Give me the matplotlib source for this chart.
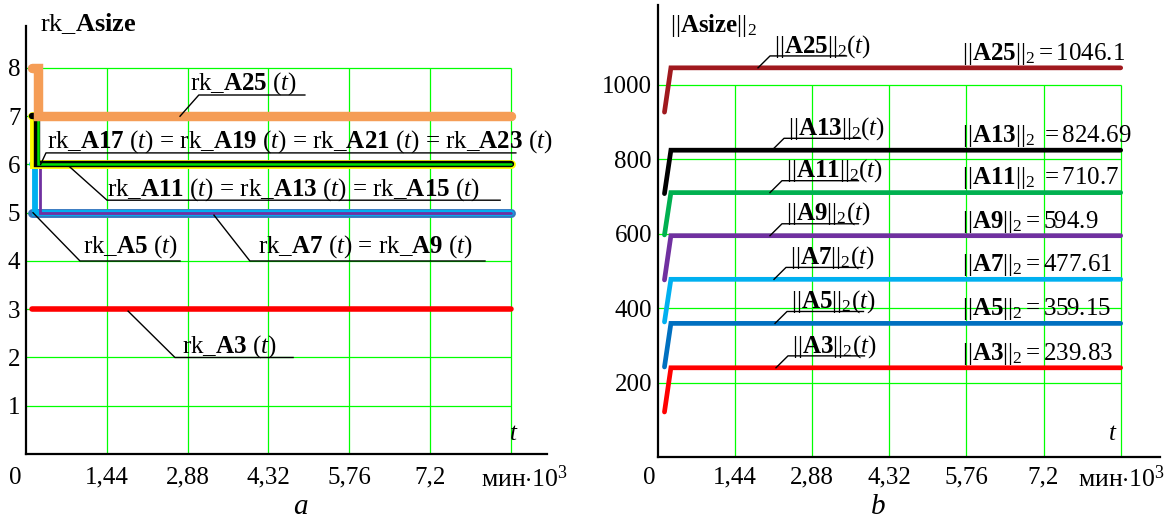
import matplotlib
matplotlib.use("Agg")
import matplotlib.pyplot as plt

plt.rcParams['font.family'] = ['Liberation Serif', 'DejaVu Serif']
plt.rcParams['mathtext.fontset'] = 'custom'
plt.rcParams['mathtext.rm'] = 'Liberation Serif'
plt.rcParams['mathtext.it'] = 'Liberation Serif:italic'
plt.rcParams['mathtext.bf'] = 'Liberation Serif:bold'

# ---------------- data: panel a (rank) ----------------
t_A3 = [0.11, 8.64]; rk_A3 = [3, 3]
t_A5 = [0.11, 8.64]; rk_A5 = [5, 5]
t_A7 = [0.11, 0.16, 0.16, 8.64]; rk_A7 = [6, 6, 5, 5]
t_A9 = [0.20, 0.25, 0.25, 8.64]; rk_A9 = [6, 6, 5, 5]
t_A23 = [0.11, 0.14, 0.14, 8.64]; rk_A23 = [7, 7, 6, 6]
t_A21 = [0.11, 0.20, 0.20, 8.64]; rk_A21 = [7, 7, 6, 6]
t_A19 = [0.16, 0.21, 0.21, 8.64]; rk_A19 = [7, 7, 6, 6]
t_A25 = [0.11, 0.21, 0.21, 8.64]; rk_A25 = [8, 8, 7, 7]

# ---------------- data: panel b (2-norm) ----------------
t_norm = [0.13, 0.25, 8.64]
n_A3 = [121, 239.83, 239.83]
n_A5 = [242, 359.15, 359.15]
n_A7 = [363, 477.61, 477.61]
n_A9 = [476, 594.9, 594.9]
n_A11 = [597, 710.7, 710.7]
n_A13 = [708, 824.69, 824.69]
n_A25 = [927, 1046.1, 1046.1]
norm_names = ['A25', 'A13', 'A11', 'A9', 'A7', 'A5', 'A3']
norm_vals = ['1046.1', '824.69', '710.7', '594.9', '477.61', '359.15', '239.83']
norm_eq = ['=', r'\ {=}', r'\ {=}', '=', '=', '=', '=']

x_ticks = [1.44, 2.88, 4.32, 5.76, 7.2]
x_tick_labels = ['1,44', '2,88', '4,32', '5,76', '7,2']
x_grid = [1.44, 2.88, 4.32, 5.76, 7.2, 8.64]
y_ticks_a = [1, 2, 3, 4, 5, 6, 7, 8]
y_ticks_b = [200, 400, 600, 800, 1000]

W, H = 1167, 522
fig = plt.figure(figsize=(W / 100, H / 100), dpi=100)
GRID = '#00ff00'
FS = 18

def style(ax, xpad):
    for s in ['top', 'right']:
        ax.spines[s].set_visible(False)
    for s in ['left', 'bottom']:
        ax.spines[s].set_linewidth(1.6)
        ax.spines[s].set_color('black')
    ax.tick_params(axis='both', length=0)
    ax.tick_params(axis='x', pad=xpad, labelsize=18)
    ax.tick_params(axis='y', pad=4, labelsize=FS)

# ================= panel a =================
ax1 = fig.add_axes([26 / W, (H - 454) / H, (547 - 26) / W, (454 - 26) / H])
ax1.set_xlim(0, 9.285)
ax1.set_ylim(0, 8.87)
style(ax1, 9)
ax1.vlines(x_grid, 0, 8, color=GRID, lw=0.9, zorder=0)
ax1.hlines(y_ticks_a, 0, 8.64, color=GRID, lw=0.9, zorder=0)
ax1.set_xticks(x_ticks, x_tick_labels)
ax1.set_yticks(y_ticks_a, [str(v) for v in y_ticks_a])

kw = dict(solid_capstyle='round', solid_joinstyle='miter')
ax1.plot(t_A3, rk_A3, color='#ff0000', lw=4.0, **kw)
ax1.plot(t_A5, rk_A5, color='#3677c0', lw=6.4, **kw)
ax1.plot(t_A7, rk_A7, color='#00b0f0', lw=4.2, **kw)
ax1.plot(t_A9, rk_A9, color='#7030a0', lw=2.0, **kw)
ax1.plot(t_A23, rk_A23, color='#ffff00', lw=6.4, **kw)
ax1.plot(t_A21, rk_A21, color='#000000', lw=4.6, **kw)
ax1.plot(t_A19, rk_A19, color='#00e000', lw=1.8, **kw)
ax1.plot(t_A25, rk_A25, color='#f59d56', lw=6.8, **kw)

lab_a = [
    (r"rk_$\mathbf{A25}$ ($t$)", [(2.745, 7.0), (3.08, 7.44), (4.97, 7.44)], (2.92, 7.56)),
    (r"rk_$\mathbf{A17}$ ($t$) = rk_$\mathbf{A19}$ ($t$) = rk_$\mathbf{A21}$ ($t$) = rk_$\mathbf{A23}$ ($t$)",
     [(0.26, 6.0), (0.356, 6.24), (8.73, 6.24)], (0.38, 6.36)),
    (r"rk_$\mathbf{A11}$ ($t$) = rk_$\mathbf{A13}$ ($t$) = rk_$\mathbf{A15}$ ($t$)",
     [(0.78, 5.95), (1.444, 5.26), (8.45, 5.26)], (1.444, 5.35)),
    (r"rk_$\mathbf{A5}$ ($t$)", [(0.125, 5.0), (0.962, 4.0), (2.745, 4.0)], (1.01, 4.17)),
    (r"rk_$\mathbf{A7}$ ($t$) = rk_$\mathbf{A9}$ ($t$)", [(3.35, 4.95), (3.99, 4.0), (8.18, 4.0)], (4.13, 4.17)),
    (r"rk_$\mathbf{A3}$ ($t$)", [(1.82, 2.96), (2.655, 2.0), (4.76, 2.0)], (2.78, 2.11)),
]
for txt, pts, tp in lab_a:
    ax1.plot([p[0] for p in pts], [p[1] for p in pts], color='black', lw=1.0, zorder=5)
    ax1.text(tp[0], tp[1], txt, fontsize=FS, va='baseline', ha='left', zorder=6)

ax1.text(8.7, 0.3, r"$t$", fontsize=18, ha='center', va='baseline')
fig.text(15 / W, 1 - 478 / H, "0", fontsize=18, ha='center', va='center')
fig.text(481 / W, 1 - 487 / H, r"мин$\cdot10^3$", fontsize=18.5, ha='left', va='baseline')
fig.text(40 / W, 1 - 31 / H, r"rk_$\mathbf{Asize}$", fontsize=19, ha='left', va='baseline')
fig.text(301 / W, 1 - 514 / H, r"$a$", fontsize=21, ha='center', va='baseline')

# ================= panel b =================
ax2 = fig.add_axes([657.5 / W, (H - 457) / H, (1160 - 657.5) / W, (457 - 5) / H])
ax2.set_xlim(0, 9.373)
ax2.set_ylim(0, 1215)
style(ax2, 7)
ax2.vlines(x_grid, 0, 1000, color=GRID, lw=0.9, zorder=0)
ax2.hlines(y_ticks_b, 0, 8.64, color=GRID, lw=0.9, zorder=0)
ax2.set_xticks(x_ticks, x_tick_labels)
ax2.set_yticks(y_ticks_b, [str(v) for v in y_ticks_b])

series_b = [n_A25, n_A13, n_A11, n_A9, n_A7, n_A5, n_A3]
colors_b = ['#a0191e', '#000000', '#00b050', '#7030a0', '#00b0f0', '#0070c0', '#ff0000']
lead_t = [1.875, 2.136, 2.098, 2.098, 2.173, 2.192, 2.21]
for vals, col in zip(series_b, colors_b):
    ax2.plot(t_norm, vals, color=col, lw=3.4, **kw)

for name, sval, eq, vals, lt in zip(norm_names, norm_vals, norm_eq, series_b, lead_t):
    v = vals[-1]
    ax2.plot([lt, lt + 0.224, lt + 1.65], [v, v + 32, v + 32], color='black', lw=1.0, zorder=5)
    ax2.text(lt + 0.30, v + 42, r"$||\mathbf{%s}||_2(t)$" % name, fontsize=FS,
             ha='left', va='baseline', zorder=6)
    ax2.text(5.68, v + 22, r"$||\mathbf{%s}||_2%s%s$" % (name, eq, sval), fontsize=FS,
             ha='left', va='baseline', zorder=6)

ax2.text(8.49, 45, r"$t$", fontsize=18, ha='center', va='baseline')
fig.text(649 / W, 1 - 478 / H, "0", fontsize=18, ha='center', va='center')
fig.text(1078 / W, 1 - 487 / H, r"мин$\cdot10^3$", fontsize=18.5, ha='left', va='baseline')
fig.text(670 / W, 1 - 32 / H, r"$||\mathbf{Asize}||_2$", fontsize=18, ha='left', va='baseline')
fig.text(878 / W, 1 - 514 / H, r"$b$", fontsize=21, ha='center', va='baseline')

fig.savefig("out.png", dpi=100)
